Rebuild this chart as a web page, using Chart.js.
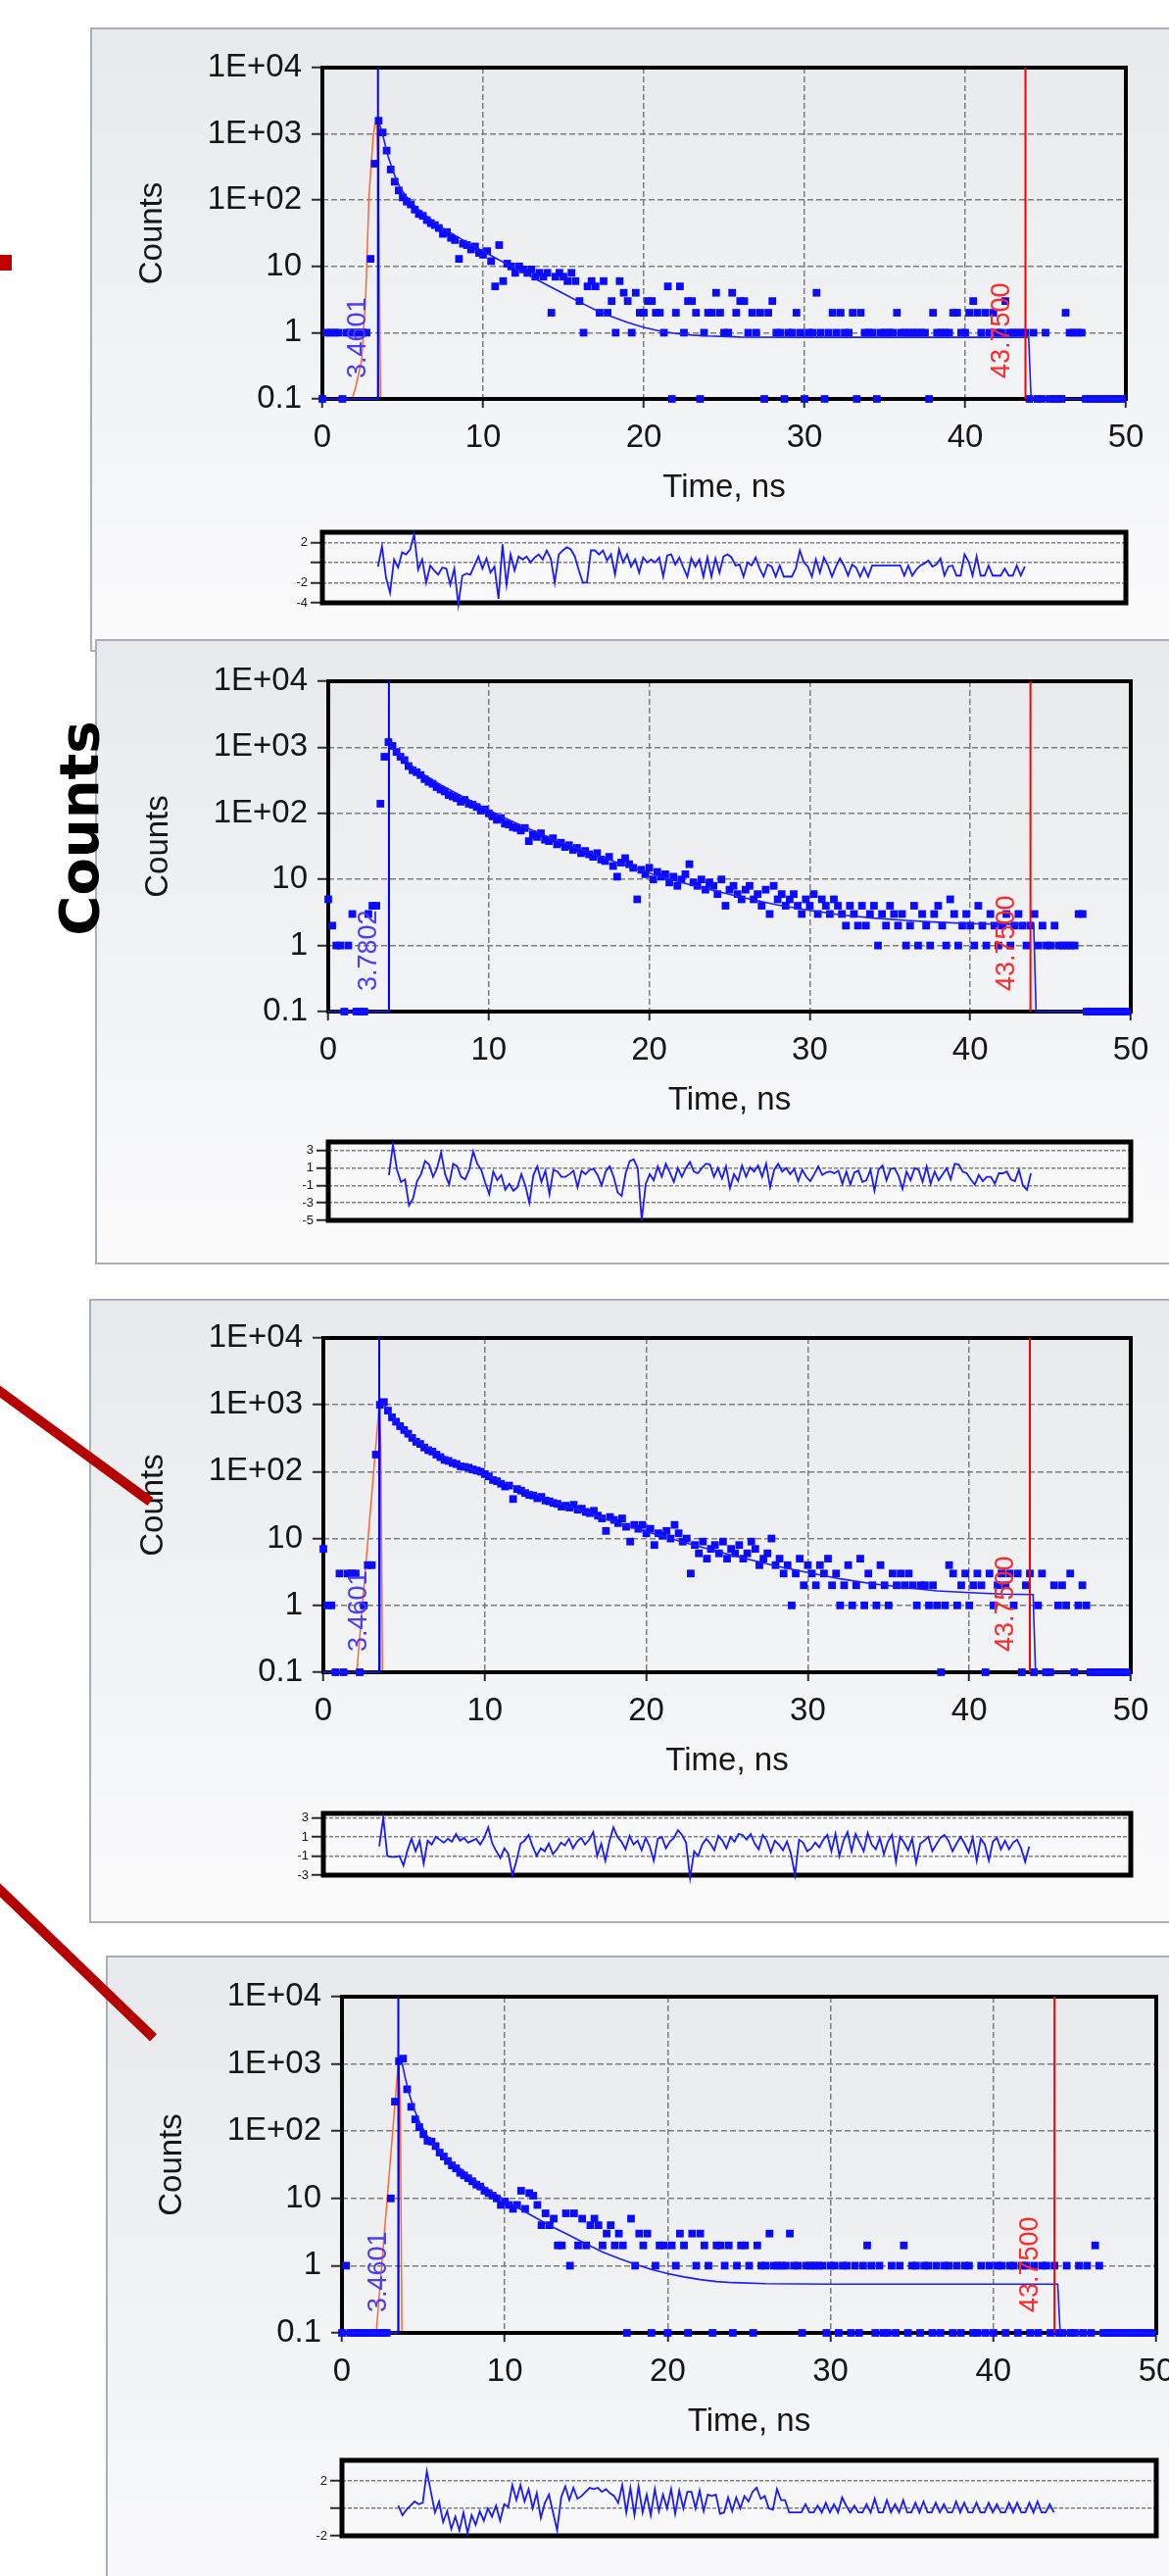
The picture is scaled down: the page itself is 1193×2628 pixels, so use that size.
<!DOCTYPE html>
<html>
<head>
<meta charset="utf-8">
<script src="https://cdn.jsdelivr.net/npm/chart.js@4.4.1/dist/chart.umd.min.js"></script>
<style>
  body { margin: 0; width: 1193px; height: 2628px; overflow: hidden; background: #fff; position: relative; }
  .panel { position: absolute; width: 1200px; border: 2px solid #a8afb7; box-sizing: border-box;
           background: linear-gradient(#e8e9ec 0%, #f2f3f5 55%, #fbfbfc 100%); }
  canvas { position: absolute; }
  .mark { position: absolute; background: #c00000; }
  .stroke { position: absolute; height: 10px; background: #b40000; transform-origin: 0 50%; }
  .big { position: absolute; left: -74px; top: 817px; width: 300px; height: 56px; line-height: 56px;
         text-align: center; font: bold 56px "DejaVu Sans", sans-serif; color: #000; transform: rotate(-90deg); }
</style>
</head>
<body>
<script>
// channel width of the decay histograms, ns
const binNs = 0.25;
const xTickVals = [0, 10, 20, 30, 40, 50];
const yTickVals = [0.1, 1, 10, 100, 1000, 10000];
const yTickText = ['0.1', '1', '10', '1E+02', '1E+03', '1E+04'];
const xTitle = 'Time, ns';
const yTitle = 'Counts';

// ---- panel 1 ----
const counts1 = [
  0,1,1,1,1,0,1,1,1,1, 1,1,13,355,1580,1050,560,290,190,140,
  110,95,86,72,62,58,50,45,42,38, 31,33,27,25,13,22,21,18,20,16,
  15,17,12,5,21,6,11,10,8,10, 9,8,9,7,8,7,8,2,7,8,
  7,6,8,6,3,1,5,6,5,2, 6,2,3,1,6,4,3,1,4,2,
  2,3,3,2,2,1,5,0,2,5, 1,3,3,2,0,1,2,2,4,2,
  1,1,4,2,3,3,1,2,1,2, 0,2,3,1,1,0,1,1,2,1,
  0,1,1,4,1,0,1,2,1,2, 1,1,2,0,2,1,1,1,0,1,
  1,1,1,2,1,1,1,1,1,1, 1,0,2,1,1,1,1,2,2,1,
  1,2,3,2,1,2,1,2,1,1, 3,1,1,1,1,1,0,1,0,0,
  1,0,0,0,0,2,1,1,1,1, 0,0,0,0,0,0,0,0,0,0
];
const fit1T = [0,3.46,3.5,3.7,3.9,4.1,4.4,4.8,5.2,5.6,6,6.5,7,7.5,8,9,10,11,12,13,14,15,16,17,18,19,20,21,22,23,24,26,30,43.95,44.1,50];
const fit1Y = [0,0,1500,1100,700,450,270,160,115,90,72,57,46,38,32,23,17,12.5,9.4,7,5.2,3.9,2.9,2.2,1.75,1.42,1.2,1.06,0.97,0.92,0.89,0.86,0.85,0.85,0,0];
const irf1T = [0,1.85,2.1,2.45,2.7,2.9,3.16,3.27,3.39,3.5,3.62,50];
const irf1Y = [0,0,0.16,0.4,3.8,115,900,1400,1550,115,0,0];
const res1 = [
  -0.4,1.6,-1.5,-3.0,0.3,-0.5,1.0,0.8,1.3,2.8, -0.7,0.3,-2.0,-0.3,-0.8,-1.2,-0.5,-0.6,-2.2,-0.6,
  -4.2,-1.3,-1.1,-1.2,-0.3,0.6,-0.6,0.4,-1.0,-0.4, -3.6,1.8,-2.2,0.8,-0.8,0.6,0.3,0.6,0.0,0.5,
  0.8,0.3,1.2,0.4,-2.0,0.8,1.2,1.5,1.3,0.6, -0.8,-2.0,-2.0,1.2,1.2,0.8,1.2,0.2,0.8,-1.2,
  1.3,0.0,0.8,-0.4,0.3,-1.0,0.5,0.0,0.3,0.0, 0.5,-1.4,0.7,0.8,-0.2,0.5,-0.5,-1.4,0.4,-0.4,
  0.3,-1.4,0.5,-1.4,0.4,-1.0,0.6,0.8,0.5,-0.3, -0.2,-1.4,0.0,-0.3,0.5,-0.6,-1.4,-0.2,-0.4,-1.4,
  -0.3,-1.4,-1.4,-1.4,-0.6,1.2,0.0,-0.4,-1.4,0.3, -1.0,0.5,-0.3,-1.4,-0.4,0.4,-0.3,-1.3,-0.2,-0.5,
  -1.4,-0.5,-1.4,-0.3,-0.3,-0.3,-0.3,-0.3,-0.3,-0.3, -0.3,-1.3,-0.3,-1.3,-0.7,-0.3,-0.1,0.2,-0.4,-0.2,
  0.4,-1.3,-0.4,-0.3,-1.3,-1.3,0.8,0.1,-1.3,0.6, -1.3,-1.3,-0.3,-1.3,-1.3,-1.3,-0.6,-1.3,-1.3,-0.3,
  -1.3,-0.4
];
const res1Ticks = [2, 0, -2, -4];
const res1Text = ['2', '', '-2', '-4'];
const start1 = 3.4601, stop1 = 43.75;

// ---- panel 2 ----
const counts2 = [
  5,2,1,1,0,1,3,0,0,0, 3,4,4,140,720,1200,1050,850,720,640,
  520,450,420,380,330,300,280,250,230,215, 190,180,170,150,160,140,135,125,110,115,
  100,90,80,85,70,68,62,60,55,60, 38,48,44,50,40,38,42,34,36,31,
  33,28,30,25,27,24,22,25,20,19, 22,16,11,18,21,17,15,5,14,12,
  15,10,13,11,12,9,11,8,10,12, 17,9,8,10,7,9,8,6,10,4,
  7,8,6,5,7,8,5,6,4,7, 3,8,5,6,4,5,6,4,3,5,
  4,6,3,5,4,3,5,4,3,2, 4,3,2,4,2,3,4,1,3,2,
  4,3,2,3,1,2,4,1,3,2, 1,3,4,2,1,5,3,1,2,3,
  2,1,4,2,1,3,2,1,2,3, 1,2,3,2,1,2,3,1,2,1,
  1,2,1,1,1,1,1,3,3,0, 0,0,0,0,0,0,0,0,0,0
];
const fit2T = [0,3.78,3.8,4,4.5,5,5.5,6,7,8,9,10,11,12,13,14,15,16,17,18,19,20,22,24,26,28,30,32,34,36,38,40,42,43.95,44.1,50];
const fit2Y = [0,0,1150,1000,760,580,460,380,270,200,150,112,85,66,52,41,33,27,22,18,15,12.5,9,6.8,5.2,4.1,3.4,2.9,2.6,2.4,2.25,2.15,2.1,2.08,0,0];
const irf2T = [0, 50];
const irf2Y = [0, 0];
const res2 = [
  0.2,3.7,0.8,-0.6,-0.3,-3.3,-2.5,-0.5,0.3,1.8, 1.4,0.0,1.0,2.8,0.3,-0.9,1.5,1.2,0.0,-0.3,
  0.8,2.9,1.5,0.8,-0.7,-2.0,0.6,-0.4,0.2,-1.5, -0.8,-1.6,-1.2,0.3,-1.0,-3.0,0.2,1.2,-0.6,0.7,
  -2.0,0.8,0.6,0.0,0.0,0.3,0.7,-1.2,0.7,0.3, 0.8,0.9,0.2,-1.0,0.6,1.2,0.0,-1.8,-2.2,0.4,
  1.8,2.0,1.0,-5.0,-0.8,0.3,-0.4,1.2,0.0,1.5, 0.5,-0.6,1.0,0.0,1.0,1.7,0.6,0.4,1.0,1.5,
  1.4,0.0,1.0,-0.2,1.2,-1.3,0.3,-0.5,1.3,0.0, 1.1,0.6,1.3,0.0,1.5,-1.2,0.8,1.5,0.6,1.0,
  0.3,0.9,-0.5,0.8,0.0,-0.5,0.3,1.2,0.2,0.5, 0.6,0.4,0.7,-0.8,0.6,-0.9,0.5,0.7,-0.6,-0.4,
  0.8,-1.6,0.8,1.3,-0.4,0.9,1.0,0.1,-1.4,0.6, -0.4,1.0,0.8,-0.6,1.2,-0.8,0.6,-0.4,0.3,1.0,
  -0.3,1.5,1.4,0.6,0.4,-0.3,-0.9,0.2,-0.5,0.0, 0.0,-0.8,0.4,0.4,0.6,-0.3,-0.5,0.8,-1.0,-1.5,
  0.4
];
const res2Ticks = [3, 1, -1, -3, -5];
const res2Text = ['3', '1', '-1', '-3', '-5'];
const start2 = 3.7802, stop2 = 43.75;

// ---- panel 3 ----
const counts3 = [
  7,1,1,0,3,0,3,3,3,0, 1,4,4,180,1000,1100,820,650,560,480,
  420,370,320,280,260,230,210,200,180,165, 150,145,135,130,120,118,115,108,104,100,
  92,85,75,72,66,60,62,39,55,52, 48,45,44,40,42,37,36,34,33,30,
  31,29,32,27,28,25,24,26,22,20, 13,21,19,17,20,15,9,16,14,16,
  12,14,8,12,11,13,10,16,12,9, 10,3,8,6,9,5,7,8,6,9,
  5,7,6,8,5,6,9,7,4,5, 6,10,4,5,3,4,1,3,5,2,
  4,3,2,4,3,5,2,3,1,2, 4,1,2,5,1,3,2,1,4,2,
  1,3,2,3,2,3,2,1,2,2, 1,2,1,0,1,4,3,1,2,3,
  1,2,3,2,0,3,1,2,3,2, 3,1,3,0,2,3,0,1,3,0,
  0,2,1,2,1,3,0,1,2,1, 0,0,0,0,0,0,0,0,0,0
];
const fit3T = [0,3.46,3.5,3.7,4,4.5,5,5.5,6,7,8,9,10,11,12,13,14,15,16,17,18,19,20,21,22,24,26,28,30,32,34,36,38,40,42,43.95,44.1,50];
const fit3Y = [0,0,1000,1050,820,580,430,340,275,195,145,113,90,72,58,47,38,31,26,21.5,18,15,12.7,10.8,9.2,6.8,5.1,3.9,3.1,2.5,2.1,1.85,1.65,1.55,1.48,1.45,0,0];
const irf3T = [0,2.07,2.3,2.6,2.9,3.1,3.3,3.45,3.56,3.66,50];
const irf3Y = [0,0,0.46,3.3,24,91,340,930,250,0,0];
const res3 = [
  0.0,3.0,-1.0,-1.1,-1.1,-1.0,-2.0,-0.4,0.8,-0.5, 0.6,-1.8,0.6,0.2,1.0,0.7,0.4,0.8,0.5,1.3,
  0.6,0.9,0.4,0.6,0.8,0.2,0.9,2.0,0.3,-0.5, -1.2,-0.2,-0.8,-3.0,-1.5,0.3,0.6,1.2,0.0,-1.0,
  -0.2,-0.5,0.3,-0.8,-0.3,0.4,0.1,0.8,-0.2,0.5, 0.9,0.2,0.7,1.5,-1.0,0.3,-1.5,0.5,2.0,1.0,
  0.5,-0.3,1.1,0.2,0.6,-0.4,0.9,0.0,-1.5,0.8, 1.0,-0.2,0.5,0.9,1.7,1.2,0.4,-3.3,-0.5,-1.0,
  0.2,0.8,0.3,-0.4,1.1,0.6,-0.2,1.0,0.5,1.3, 1.2,0.7,1.3,0.3,-0.3,1.2,0.6,-0.6,0.6,0.2,
  -0.4,0.5,-0.8,-3.0,0.7,0.4,-0.5,-0.2,0.4,-0.1, 0.7,1.2,-0.5,1.3,-1.0,0.6,1.5,-0.5,1.3,0.4,
  -0.5,1.4,0.2,-0.3,0.9,-0.8,0.5,1.2,-1.6,1.0, 0.4,-0.4,0.8,-1.7,0.3,0.6,1.0,-0.5,0.2,0.9,
  1.2,0.6,-0.5,0.3,1.0,0.3,-0.6,0.9,-1.5,0.8, 0.2,-1.5,0.5,0.9,-0.3,0.6,-0.3,0.4,0.7,-0.2,
  -1.6,0.0
];
const res3Ticks = [3, 1, -1, -3];
const res3Text = ['3', '1', '-1', '-3'];
const start3 = 3.4601, stop3 = 43.75;

// ---- panel 4 ----
const counts4 = [
  0,1,0,0,0,0,0,0,0,0, 0,0,10,275,1100,1200,420,230,150,115,
  90,72,70,60,48,42,36,31,28,24, 22,20,18,16,15,13,12,11,10,8,
  9,8,7,8,13,7,12,11,8,4, 6,4,5,2,2,6,1,6,2,5,
  2,4,5,4,2,3,4,2,3,2, 0,5,1,3,2,3,0,1,2,2,
  0,2,1,3,2,0,3,1,3,2, 1,0,2,2,1,2,0,1,2,2,
  1,0,2,1,1,3,1,1,1,1, 3,1,1,0,1,1,1,1,1,0,
  1,1,0,1,1,0,1,0,1,2, 1,0,1,0,0,1,0,1,2,0,
  1,1,0,1,1,0,1,0,1,1, 0,1,0,1,1,0,0,1,0,1,
  0,1,1,0,1,1,0,1,1,0, 1,0,1,1,0,1,0,0,1,0,
  0,1,0,1,0,2,1,0,0,0, 0,0,0,0,0,0,0,0,0,0
];
const fit4T = [0,3.46,3.5,3.7,3.9,4.1,4.4,4.8,5.2,5.6,6,6.5,7,7.5,8,9,10,11,12,13,14,15,16,17,18,19,20,21,22,23,24,26,30,43.95,44.1,50];
const fit4Y = [0,0,1100,1000,600,380,220,130,88,65,50,39,31,25,20,13.5,9.5,6.8,5,3.7,2.8,2.1,1.6,1.28,1.05,0.88,0.76,0.68,0.62,0.58,0.56,0.54,0.53,0.53,0,0];
const irf4T = [0,2.1,2.4,2.7,3.0,3.2,3.4,3.47,3.58,3.68,50];
const irf4Y = [0,0,0.76,5.9,45,178,690,1100,250,0,0];
const res4 = [
  0.2,-0.5,-0.1,0.2,0.5,0.3,0.4,2.7,1.2,-0.3, 0.5,-1.0,-0.2,-1.5,-0.6,-1.6,-0.3,-1.8,-0.5,-1.2,
  -0.2,-0.9,0.0,-0.6,0.2,-0.9,0.3,0.1,1.7,0.6, 1.7,0.5,1.4,0.0,1.1,-0.7,0.4,1.0,-0.3,-1.6,
  0.8,1.6,0.6,1.5,0.7,0.9,1.2,1.5,1.4,1.5, 1.2,1.4,1.1,0.9,0.4,1.7,-0.3,1.5,-0.5,1.6,
  -0.3,1.0,-0.5,1.4,-0.2,1.0,0.0,1.4,-0.4,1.3, 0.0,1.2,1.2,0.0,1.3,-0.2,1.0,0.9,1.0,-0.4,
  -0.3,0.8,-0.2,0.8,0.0,0.9,0.5,1.2,1.5,0.7, 0.9,0.0,-0.1,1.4,0.6,0.6,-0.3,-0.3,-0.3,-0.3,
  0.3,-0.3,-0.3,0.2,-0.3,0.4,-0.3,0.3,-0.3,0.8, 0.2,-0.3,0.2,-0.3,-0.3,0.3,-0.3,0.7,-0.3,-0.3,
  0.6,-0.3,0.3,-0.3,0.6,-0.3,-0.3,0.4,-0.3,0.5, -0.3,-0.3,0.4,-0.3,0.3,-0.3,-0.3,0.5,-0.3,0.4,
  -0.3,-0.3,0.4,-0.3,-0.3,0.4,-0.3,0.3,-0.3,-0.3, 0.4,-0.3,0.4,-0.3,-0.3,0.4,-0.3,0.5,-0.3,-0.3,
  0.3,-0.3
];
const res4Ticks = [2, 0, -2];
const res4Text = ['2', '', '-2'];
const start4 = 3.4601, stop4 = 43.75;

const panels = [
  {counts: counts1, fitT: fit1T, fitY: fit1Y, irfT: irf1T, irfY: irf1Y, res: res1, resTicks: res1Ticks, resText: res1Text, start: start1, stop: stop1},
  {counts: counts2, fitT: fit2T, fitY: fit2Y, irfT: irf2T, irfY: irf2Y, res: res2, resTicks: res2Ticks, resText: res2Text, start: start2, stop: stop2},
  {counts: counts3, fitT: fit3T, fitY: fit3Y, irfT: irf3T, irfY: irf3Y, res: res3, resTicks: res3Ticks, resText: res3Text, start: start3, stop: stop3},
  {counts: counts4, fitT: fit4T, fitY: fit4Y, irfT: irf4T, irfY: irf4Y, res: res4, resTicks: res4Ticks, resText: res4Text, start: start4, stop: stop4}
];

// page geometry of each screenshot panel (left, top, height) and its plot boxes
const boxes = [
  {panel: [92, 28, 637],   plot: [329, 69, 1149, 407],   res: [543, 615],   resRange: [-4, 3]},
  {panel: [97, 652, 638],  plot: [335, 695, 1154, 1032], res: [1165, 1245], resRange: [-5, 4]},
  {panel: [91, 1325, 637], plot: [330, 1365, 1154, 1706], res: [1850, 1913], resRange: [-3, 3.45]},
  {panel: [108, 1995, 700], plot: [349, 2037, 1180, 2380], res: [2510, 2587], resRange: [-2, 3.5]}
];

const yMin = yTickVals[0], yMax = yTickVals[yTickVals.length - 1];
Chart.defaults.font.family = '"Liberation Sans", Arial, sans-serif';
Chart.defaults.color = '#161616';

function pairs(t, y) {
  return t.map((x, i) => ({x: x, y: y[i] > 0 ? y[i] : yMin}));
}

function addCanvas(left, top, w, h) {
  const c = document.createElement('canvas');
  c.width = w; c.height = h;
  c.style.left = left + 'px'; c.style.top = top + 'px';
  c.style.width = w + 'px'; c.style.height = h + 'px';
  document.body.appendChild(c);
  return c;
}

function framePlugin(width, afterIndex) {
  const draw = chart => {
    const a = chart.chartArea, ctx = chart.ctx;
    ctx.save();
    ctx.strokeStyle = '#000';
    ctx.lineWidth = width;
    ctx.strokeRect(a.left, a.top, a.right - a.left, a.bottom - a.top);
    ctx.restore();
  };
  if (afterIndex === undefined) return {id: 'frame', beforeDatasetsDraw: draw};
  return {id: 'frame', afterDatasetDraw(chart, args) { if (args.index === afterIndex) draw(chart); }};
}

function markLabels(items) {
  return {
    id: 'markLabels',
    afterDatasetsDraw(chart) {
      const {ctx, chartArea: a, scales: {x}} = chart;
      ctx.save();
      ctx.font = '27px "Liberation Sans", Arial, sans-serif';
      ctx.textAlign = 'left';
      ctx.textBaseline = 'alphabetic';
      for (const m of items) {
        ctx.save();
        ctx.translate(x.getPixelForValue(m.t) - m.gap, a.bottom - 21);
        ctx.rotate(-Math.PI / 2);
        ctx.fillStyle = m.color;
        ctx.fillText(m.text, 0, 0);
        ctx.restore();
      }
      ctx.restore();
    }
  };
}

function mainChart(b, d) {
  const [L, T, R, B] = b.plot;
  const cv = addCanvas(L - 200, T - 30, R - L + 230, B - T + 150);
  const line = (data, color, w) => ({data: data, showLine: true, borderColor: color, borderWidth: w,
                                     pointRadius: 0, tension: 0, clip: false});
  new Chart(cv, {
    type: 'scatter',
    data: {
      datasets: [
        line([{x: d.start, y: yMin}, {x: d.start, y: yMax}], '#0000ff', 2),
        line([{x: d.stop, y: yMin}, {x: d.stop, y: yMax}], '#ff0000', 2),
        line(pairs(d.fitT, d.fitY), '#1c1cff', 1.6),
        {data: d.counts.map((c, i) => ({x: i * binNs, y: c > 0 ? c : yMin})),
         pointStyle: 'rect', pointRadius: 5.5, pointBackgroundColor: '#0b0bff', pointBorderWidth: 0, clip: false},
        line(pairs(d.irfT, d.irfY), '#ff6633', 1.5)
      ]
    },
    options: {
      responsive: false, animation: false, devicePixelRatio: 1, events: [],
      layout: {padding: {left: 0, top: 30, right: 30, bottom: 0}},
      plugins: {legend: {display: false}, tooltip: {enabled: false}},
      scales: {
        x: {
          type: 'linear', min: 0, max: 50,
          afterBuildTicks: s => { s.ticks = xTickVals.map(v => ({value: v})); },
          afterFit: s => { s.height = 120; },
          grid: {color: '#7d7d7d', lineWidth: 1.5, tickLength: 9, tickColor: '#2b2b2b', tickWidth: 2, tickBorderDash: []},
          border: {display: false, dash: [6, 3]},
          ticks: {padding: 11, font: {size: 33}, autoSkip: false, maxRotation: 0},
          title: {display: true, text: xTitle, font: {size: 33}, padding: {top: 0, bottom: 9}}
        },
        y: {
          type: 'logarithmic', min: yMin, max: yMax,
          afterBuildTicks: s => { s.ticks = yTickVals.map(v => ({value: v})); },
          afterFit: s => { s.width = 200; },
          grid: {color: '#7d7d7d', lineWidth: 1.5, tickLength: 11, tickColor: '#2b2b2b', tickWidth: 2, tickBorderDash: []},
          border: {display: false, dash: [6, 3]},
          ticks: {padding: 10, font: {size: 33}, autoSkip: false, callback: (v, i) => yTickText[i]},
          title: {display: true, text: yTitle, font: {size: 33}, padding: {top: 7, bottom: 0}}
        }
      }
    },
    plugins: [
      framePlugin(4, 4),
      markLabels([
        {t: d.start, text: d.start.toFixed(4), color: '#4a3df5', gap: 13},
        {t: d.stop, text: d.stop.toFixed(4), color: '#ff2a2a', gap: 17}
      ])
    ]
  });
}

function resChart(b, d) {
  const [L, , R] = b.plot;
  const [T, B] = b.res;
  const cv = addCanvas(L - 60, T - 12, R - L + 72, B - T + 24);
  new Chart(cv, {
    type: 'scatter',
    data: {
      datasets: [{data: d.res.map((v, i) => ({x: d.start + i * binNs, y: v})), showLine: true,
                  borderColor: '#1a1aff', borderWidth: 1.8, pointRadius: 0, tension: 0, clip: false}]
    },
    options: {
      responsive: false, animation: false, devicePixelRatio: 1, events: [],
      layout: {padding: {left: 0, top: 12, right: 12, bottom: 12}},
      plugins: {legend: {display: false}, tooltip: {enabled: false}},
      scales: {
        x: {type: 'linear', min: 0, max: 50, display: false},
        y: {
          type: 'linear', min: b.resRange[0], max: b.resRange[1],
          afterBuildTicks: s => { s.ticks = d.resTicks.map(v => ({value: v})); },
          afterFit: s => { s.width = 60; },
          grid: {color: '#808080', lineWidth: 1.5, tickLength: 12, tickColor: '#2b2b2b', tickWidth: 2, tickBorderDash: []},
          border: {display: false, dash: [4, 2]},
          ticks: {padding: 3, font: {size: 13}, autoSkip: false, callback: (v, i) => d.resText[i]}
        }
      }
    },
    plugins: [framePlugin(5)]
  });
}

boxes.forEach((b, k) => {
  const p = document.createElement('div');
  p.className = 'panel';
  p.style.left = b.panel[0] + 'px';
  p.style.top = b.panel[1] + 'px';
  p.style.height = b.panel[2] + 'px';
  document.body.appendChild(p);
  mainChart(b, panels[k]);
  resChart(b, panels[k]);
});

// annotations pasted around the screenshots
function addDiv(cls, css, text) {
  const el = document.createElement('div');
  el.className = cls;
  el.style.cssText = css;
  if (text) el.textContent = text;
  document.body.appendChild(el);
}
addDiv('mark', 'left:0;top:260px;width:12px;height:16px');
addDiv('stroke', 'left:-20px;top:1400px;width:215px;transform:rotate(36.2deg)');
addDiv('stroke', 'left:-20px;top:1904px;width:245px;transform:rotate(43.9deg)');
addDiv('big', '', 'Counts');
</script>
</body>
</html>
